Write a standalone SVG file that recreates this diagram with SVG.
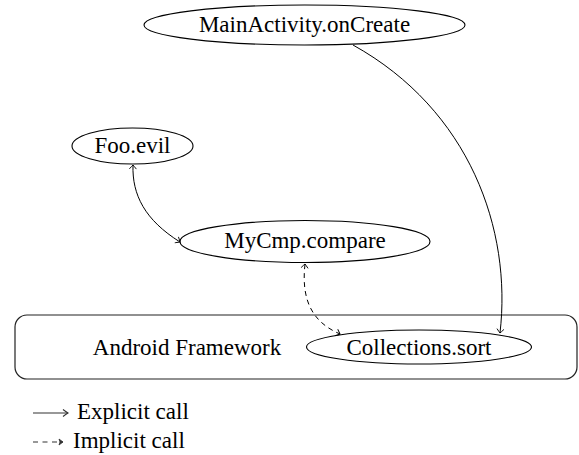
<svg xmlns="http://www.w3.org/2000/svg" width="579" height="455" viewBox="0 0 579 455">
<style>
.node{fill:#fff;stroke:#000;stroke-width:1.1}
.edge{fill:none;stroke:#000;stroke-width:1}
.dash{stroke-dasharray:5,4}
.box{fill:#fff;stroke:#222;stroke-width:1.2}
.leg{stroke:#333;stroke-width:1.1;fill:none}
</style>
<defs>
<marker id="tip" viewBox="-5 -5 6 10" refX="0" refY="0" markerWidth="6" markerHeight="10" markerUnits="userSpaceOnUse" orient="auto-start-reverse">
<path d="M-4,-3.5 Q-1,-1 0,0 Q-1,1 -4,3.5" fill="none" stroke="#000" stroke-width="0.9"/>
</marker>
<marker id="ltip" viewBox="-7 -5 8 10" refX="0" refY="0" markerWidth="8" markerHeight="10" markerUnits="userSpaceOnUse" orient="auto">
<path d="M-5,-3.5 Q-1.5,-0.8 0,0 Q-1.5,0.8 -5,3.5" fill="none" stroke="#333" stroke-width="1.1"/>
</marker>
<marker id="dtip" viewBox="-7 -5 8 10" refX="0" refY="0" markerWidth="8" markerHeight="10" markerUnits="userSpaceOnUse" orient="auto">
<path d="M-4,-3 L0,0 L-4,3 L-3,0 Z" fill="#333" stroke="#333" stroke-width="0.8"/>
</marker>
</defs>
<rect width="579" height="455" fill="#fff"/>
<g id="framework">
<rect class="box" x="15" y="315" width="562" height="64" rx="12" ry="12"/>
<text font-family="Liberation Serif" font-size="23" x="187" y="355" text-anchor="middle">Android Framework</text>
</g>
<g id="mainactivity">
<ellipse class="node" cx="304.5" cy="25" rx="160.5" ry="20"/>
<text font-family="Liberation Serif" font-size="23" x="304.5" y="32" text-anchor="middle">MainActivity.onCreate</text>
</g>
<g id="fooevil">
<ellipse class="node" cx="132.5" cy="146" rx="60.5" ry="18"/>
<text font-family="Liberation Serif" font-size="23" x="132.5" y="153" text-anchor="middle">Foo.evil</text>
</g>
<g id="mycmp">
<ellipse class="node" cx="305" cy="241.5" rx="125" ry="21"/>
<text font-family="Liberation Serif" font-size="23" x="305" y="248" text-anchor="middle">MyCmp.compare</text>
</g>
<g id="collections">
<ellipse class="node" cx="419" cy="347" rx="112.5" ry="17"/>
<text font-family="Liberation Serif" font-size="23" x="419" y="355" text-anchor="middle">Collections.sort</text>
</g>
<g id="connectors">
<path class="edge" d="M353,45 C470,110 512,230 500,333" marker-end="url(#tip)"/>
<path class="edge" d="M180,242 C145,220 132,195 133,165" marker-start="url(#tip)" marker-end="url(#tip)"/>
<path class="edge dash" d="M305,264 C301,300 312,322 340,334" marker-start="url(#tip)" marker-end="url(#tip)"/>
</g>
<g id="legend">
<line class="leg" x1="33" y1="413" x2="68" y2="413" marker-end="url(#ltip)"/>
<text font-family="Liberation Serif" font-size="23" x="77" y="419">Explicit call</text>
<line class="leg" x1="33" y1="442" x2="63" y2="442" stroke-dasharray="5,4.5" marker-end="url(#dtip)"/>
<text font-family="Liberation Serif" font-size="23" x="73" y="448">Implicit call</text>
</g>
</svg>
